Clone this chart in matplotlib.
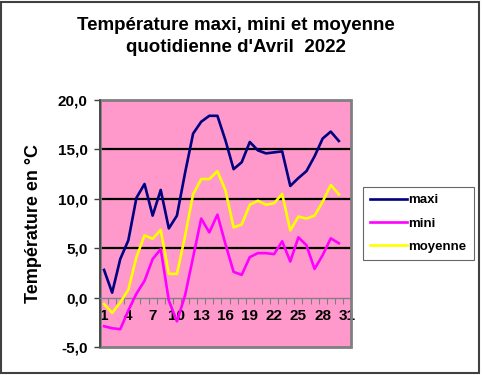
import matplotlib
matplotlib.use("Agg")
import matplotlib.pyplot as plt
from matplotlib.patches import Rectangle
from matplotlib.ticker import FixedLocator, FuncFormatter

plt.rcParams['font.family'] = ['Liberation Sans', 'DejaVu Sans']

days = list(range(1, 31))
maxi = [2.8, 0.5, 3.9, 5.8, 10.1, 11.5, 8.3, 10.9, 7.0, 8.3, 12.6, 16.6, 17.8, 18.4, 18.4,
        15.9, 13.0, 13.7, 15.75, 14.9, 14.6, 14.7, 14.8, 11.3, 12.1, 12.8, 14.3, 16.1, 16.8, 15.85]
mini = [-2.9, -3.1, -3.2, -1.3, 0.4, 1.7, 3.9, 4.9, -0.3, -2.4, 0.2, 4.1, 8.0, 6.6, 8.4,
        5.4, 2.6, 2.3, 4.1, 4.5, 4.5, 4.4, 5.7, 3.65, 6.1, 5.3, 2.9, 4.3, 6.0, 5.5]
moyenne = [-0.65, -1.55, -0.5, 0.8, 4.1, 6.3, 5.95, 6.85, 2.4, 2.4, 6.2, 10.45, 12.0, 12.0, 12.8,
           10.85, 7.1, 7.4, 9.4, 9.8, 9.4, 9.55, 10.5, 6.8, 8.2, 8.0, 8.3, 9.7, 11.4, 10.45]
x_labels = [1, 4, 7, 10, 13, 16, 19, 22, 25, 28, 31]
y_ticks = [-5, 0, 5, 10, 15, 20]
grid_vals = [5, 10, 15]

fig = plt.figure(figsize=(4.82, 3.75), dpi=100)
fig.patch.set_facecolor('white')
fig.patches.append(Rectangle((0.002, 0.005), 0.992, 0.99, transform=fig.transFigure,
                             fill=False, edgecolor='#404040', linewidth=1.5))

ax = fig.add_axes([100/482, 1-347/375, 251/482, 247/375])
ax.set_facecolor('#FF99CC')

for g in grid_vals:
    ax.axhline(g, color='black', linewidth=1.6, zorder=1)

ax.plot(days, maxi, color='#000080', linewidth=1.9, label='maxi', zorder=3)
ax.plot(days, mini, color='#FF00FF', linewidth=1.9, label='mini', zorder=3)
ax.plot(days, moyenne, color='#FFFF00', linewidth=1.9, label='moyenne', zorder=3)

ax.set_xlim(0.5, 31.5)
ax.set_ylim(-5, 20)

for s in ['top', 'right']:
    ax.spines[s].set_visible(False)
ax.spines['left'].set_color('#404040')
ax.spines['left'].set_linewidth(1.2)
ax.spines['bottom'].set_position(('data', 0))
ax.spines['bottom'].set_color('#808080')
ax.spines['bottom'].set_linewidth(1.0)
ax.add_patch(Rectangle((0, 0), 1, 1, transform=ax.transAxes, fill=False,
                       edgecolor='#808080', linewidth=2.0, zorder=2, clip_on=False))

ax.set_yticks(y_ticks)
ax.yaxis.set_major_formatter(FuncFormatter(lambda v, p: f"{v:.1f}".replace('.', ',')))
ax.tick_params(axis='y', direction='out', length=4, width=1, color='#404040', pad=5,
               labelsize=11)
for t in ax.get_yticklabels():
    t.set_fontweight('bold')

ax.xaxis.set_major_locator(FixedLocator(x_labels))
ax.xaxis.set_minor_locator(FixedLocator([d + 0.5 for d in range(0, 32)]))
ax.tick_params(axis='x', which='major', length=0, pad=8, labelsize=11)
ax.tick_params(axis='x', which='minor', direction='out', length=4, width=0.8, color='#808080')
for t in ax.get_xticklabels():
    t.set_fontweight('bold')

ax.set_ylabel('Température en °C', fontsize=13, fontweight='bold', labelpad=11)

fig.text(0.489, 0.903, "Température maxi, mini et moyenne\nquotidienne d'Avril  2022",
         ha='center', va='center', fontsize=13.5, fontweight='bold', linespacing=1.35)

leg = ax.legend(loc='center left', bbox_to_anchor=(363/482, 1-223.5/375),
                bbox_transform=fig.transFigure, frameon=True, fancybox=False,
                edgecolor='#404040', prop={'weight': 'bold', 'size': 9.5},
                handlelength=2.8, handletextpad=0.1, labelspacing=0.85,
                borderpad=0.55, borderaxespad=0)
leg.get_frame().set_linewidth(0.8)

fig.savefig('out.png', dpi=100, facecolor='white')
